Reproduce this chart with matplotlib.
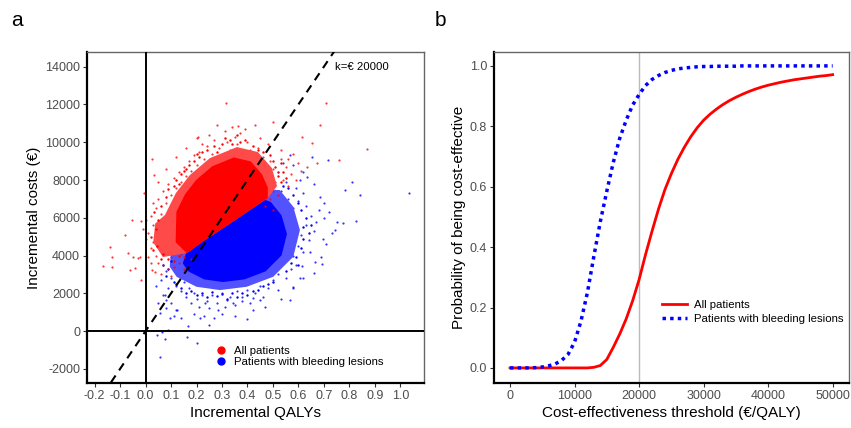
import numpy as np
import matplotlib
matplotlib.use("Agg")
import matplotlib.pyplot as plt
from matplotlib.lines import Line2D

plt.rcParams['font.family'] = ['Liberation Sans', 'DejaVu Sans']
plt.rcParams['axes.unicode_minus'] = False

# ---- panel a: cost-effectiveness plane ----
# thick part of each cloud (outline), and its saturated centre
red_halo_x = [0.068, 0.030, 0.038, 0.076, 0.119, 0.174, 0.253, 0.359, 0.441, 0.496, 0.516,
              0.480, 0.410, 0.323, 0.233, 0.162]
red_halo_y = [3920, 4700, 5700, 6145, 7310, 8263, 9164, 9746, 9482, 8634, 7681,
              7045, 6409, 5615, 4820, 4132]
red_core_x = [0.162, 0.118, 0.121, 0.155, 0.199, 0.262, 0.347, 0.413, 0.457, 0.480,
              0.480, 0.410, 0.323, 0.233]
red_core_y = [4132, 4700, 6316, 7248, 8010, 8731, 9197, 8986, 8307, 7600,
              7045, 6409, 5615, 4820]
blue_halo_x = [0.095, 0.122, 0.200, 0.292, 0.397, 0.501, 0.580, 0.606, 0.580, 0.527,
               0.460, 0.380, 0.280, 0.180, 0.100]
blue_halo_y = [3406, 2876, 2347, 2172, 2347, 2876, 3936, 5350, 6584, 7469,
               7500, 7000, 6000, 5000, 4300]
blue_core_x = [0.146, 0.168, 0.230, 0.304, 0.388, 0.471, 0.534, 0.555, 0.534, 0.492,
               0.420, 0.300, 0.180]
blue_core_y = [3585, 3161, 2738, 2598, 2738, 3161, 4009, 5140, 6127, 6835,
               7200, 6200, 5000]

# simulations just outside the thick part
red_ring_x = [0.03, 0.04, 0.05, 0.06, 0.045, 0.06, 0.08, 0.09, 0.02, 0.035,
              0.11, 0.12, 0.14, 0.15, 0.17, 0.19, 0.21, 0.22, 0.24, 0.13, 0.16, 0.20,
              0.27, 0.28, 0.30, 0.33, 0.34, 0.37, 0.39, 0.42, 0.44, 0.46, 0.31, 0.36,
              0.50, 0.51, 0.52, 0.53, 0.54, 0.55, 0.53, 0.49,
              0.09, 0.11, 0.13, 0.15, 0.07]
red_ring_y = [4300, 5400, 5900, 6600, 4500, 3800, 7100, 7500, 5000, 6300,
              7700, 8000, 8300, 8500, 8800, 9000, 9200, 9500, 9600, 7800, 8600, 9400,
              9800, 9500, 9900, 10100, 9900, 10000, 10100, 9800, 9600, 9500, 10200, 10400,
              9000, 8700, 8200, 7900, 8400, 8100, 8900, 9300,
              3800, 3700, 4000, 3900, 4100]
blue_ring_x = [0.12, 0.14, 0.16, 0.18, 0.20, 0.22, 0.24, 0.26, 0.28, 0.30, 0.32, 0.34,
               0.36, 0.38, 0.40, 0.42, 0.44, 0.46, 0.48, 0.50,
               0.08, 0.09, 0.10, 0.07, 0.11,
               0.57, 0.59, 0.61, 0.62, 0.62, 0.63, 0.61, 0.60, 0.58, 0.56, 0.54, 0.64,
               0.65, 0.60, 0.55]
blue_ring_y = [2500, 2300, 2000, 2100, 1900, 2000, 1800, 2050, 1850, 1950, 1700, 2000,
               1800, 2000, 1900, 2100, 2200, 2400, 2500, 2600,
               2900, 3300, 3700, 3500, 2600,
               3600, 3900, 4400, 4900, 5500, 6000, 6400, 6800, 7200, 7600, 7700, 5200,
               5600, 3500, 3200]

# single simulations further out
red_x = [0.01, 0.02, 0.03, 0.04, 0.05, 0.03, 0.06, 0.07, 0.08, 0.09, 0.10, 0.11, 0.12, 0.13,
         0.14, 0.15, 0.16, 0.17, 0.18, 0.19, 0.20, 0.02, 0.04, 0.05, 0.07, 0.09, 0.11, 0.01,
         0.13, 0.00,
         0.21, 0.23, 0.24, 0.26, 0.27, 0.29, 0.30, 0.32, 0.33, 0.35, 0.36, 0.38, 0.40, 0.41,
         0.43, 0.25, 0.31, 0.37,
         0.46, 0.47, 0.48, 0.49, 0.50, 0.51, 0.52, 0.53, 0.50, 0.54, 0.55, 0.56, 0.57, 0.49,
         0.52, 0.58, 0.60, 0.47, 0.50, 0.44,
         0.12, 0.14, 0.16, 0.17, 0.19, 0.08, 0.10,
         0.03, 0.05, 0.08, 0.12, 0.16, 0.20, 0.22, 0.28, 0.34, 0.39, 0.45, 0.48, 0.53, 0.56,
         0.59, 0.61, 0.00, -0.01, 0.02, 0.06, 0.10, 0.15, 0.18,
         0.315, 0.708, 0.685, 0.868, 0.760, 0.204, 0.024, 0.034, -0.005, 0.652, 0.632,
         0.672, 0.361, 0.501, 0.429, 0.613,
         -0.140, -0.169, -0.130, -0.130, -0.055, -0.081, -0.068, -0.049, -0.022, -0.029,
         -0.042, -0.016, -0.062, 0.024, 0.037, -0.016]
red_y = [5200, 6100, 5600, 6500, 7000, 4700, 6200, 7400, 6800, 7800, 7200, 8100, 7600, 8400,
         7900, 8700, 8200, 9000, 8500, 9300, 8800, 4400, 4000, 3600, 3500, 3300, 3400, 3900,
         3600, 4900,
         9500, 9100, 9800, 9400, 10100, 9700, 9300, 10000, 9600, 10300, 9900, 9500, 10000, 9600,
         9300, 10400, 10600, 10500,
         9200, 8800, 8300, 9000, 8600, 7900, 8400, 9100, 7400, 8000, 8700, 7700, 8300, 7000,
         7200, 9400, 8900, 6600, 6400, 9700,
         4500, 4100, 4700, 4300, 4600, 4200, 3900,
         6800, 7900, 8600, 9200, 9700, 10200, 9900, 10900, 10800, 10700, 10200, 9900, 9600, 9100,
         8000, 8500, 5900, 5400, 3600, 3000, 2900, 3300, 3800,
         12094, 12060, 10912, 9640, 9058, 10260, 9095, 8263, 7294, 9942, 8703,
         8883, 10859, 11087, 10912, 10292,
         4466, 3443, 3902, 3374, 5880, 5085, 4148, 3936, 3936, 3851,
         3321, 2701, 3231, 3231, 3141, 5843]

blue_x = [0.08, 0.10, 0.11, 0.12, 0.13, 0.14, 0.15, 0.16, 0.17, 0.18, 0.19, 0.20, 0.21, 0.22,
          0.24, 0.25, 0.26, 0.09, 0.06, 0.07, 0.10, 0.12,
          0.28, 0.30, 0.31, 0.33, 0.35, 0.36, 0.38, 0.40, 0.41, 0.43, 0.45, 0.46, 0.48, 0.50,
          0.52,
          0.52, 0.54, 0.55, 0.57, 0.58, 0.59, 0.60, 0.61, 0.62, 0.63, 0.64, 0.65, 0.66, 0.58,
          0.60, 0.62, 0.56, 0.59, 0.63, 0.67, 0.68, 0.70, 0.57, 0.53, 0.55, 0.50, 0.47, 0.44,
          0.04, 0.05, 0.08, 0.11, 0.14, 0.19, 0.23, 0.27, 0.30, 0.35, 0.42, 0.47, 0.53, 0.58,
          0.62, 0.66, 0.69, 0.71, 0.73, 0.70, 0.66, 0.62, 0.58, 0.52, 0.48, 0.72, 0.75,
          1.035, 0.809, 0.842, 0.783, 0.717, 0.652, 0.685, 0.632, 0.567, 0.540, 0.606,
          0.826, 0.776, 0.744, 0.695, 0.691, 0.665, 0.645, 0.613, 0.567, 0.397, 0.250, 0.167,
          0.203, 0.161, 0.076, 0.043, 0.056, 0.089, 0.063, 0.122, 0.095, 0.076, 0.056, 0.082,
          0.318, 0.344, 0.285, 0.213, 0.233, 0.423, 0.449, 0.377, 0.606, 0.580]
blue_y = [3200, 2800, 3500, 2400, 3000, 2100, 2600, 1800, 2300, 1500, 2000, 1700, 1300, 1900,
          1600, 1200, 1900, 2300, 2700, 1900, 1500, 1100,
          1500, 2000, 1300, 1800, 1400, 2100, 1600, 2200, 1500, 2000, 2400, 1800, 2300, 2700,
          2200,
          3000, 3600, 2800, 3300, 4000, 3500, 4500, 5100, 4200, 5600, 4800, 6100, 5300, 6500,
          6900, 7300, 7000, 7600, 6600, 5800, 6400, 6000, 5700, 7400, 7900, 7700, 7500, 7200,
          2400, 1500, 1200, 800, 700, 900, 800, 700, 900, 800, 1100, 1300, 1700, 2300,
          2800, 3100, 3900, 4600, 5200, 6800, 7800, 8400, 8800, 8400, 8200, 6300, 5800,
          7326, 7877, 7204, 7469, 9058, 9233, 7114, 8173, 9323, 8883, 7998,
          5843, 5737, 5350, 4857, 3549, 3671, 4200, 3443, 1642, 620, 318, 265,
          -652, -302, -440, -212, -1361, 53, -37, 1112, 673, 1907, 938, 1642,
          1642, 1467, 1112, 673, 1467, 1732, 1642, 1817, 2792, 2347]

wtp = 20000
qaly_ticks = [-0.2, -0.1, 0.0, 0.1, 0.2, 0.3, 0.4, 0.5, 0.6, 0.7, 0.8, 0.9, 1.0]
cost_ticks = [-2000, 0, 2000, 4000, 6000, 8000, 10000, 12000, 14000]

# ---- panel b: acceptability curves ----
thresholds = list(range(0, 50001, 1000))
prob_all = [0, 0, 0, 0, 0, 0, 0, 0, 0, 0, 0, 0, 0, 0.002, 0.008, 0.028, 0.068, 0.112, 0.162,
            0.222, 0.292, 0.375, 0.452, 0.525, 0.59, 0.643, 0.69, 0.73, 0.765, 0.795, 0.82,
            0.84, 0.857, 0.872, 0.885, 0.896, 0.906, 0.915, 0.923, 0.93, 0.936, 0.941, 0.946,
            0.95, 0.954, 0.957, 0.96, 0.963, 0.966, 0.968, 0.971]
prob_bleed = [0, 0, 0, 0, 0.001, 0.003, 0.007, 0.013, 0.025, 0.045, 0.085, 0.155, 0.25, 0.37,
              0.485, 0.585, 0.68, 0.76, 0.82, 0.87, 0.905, 0.935, 0.955, 0.968, 0.978, 0.985,
              0.99, 0.993, 0.995, 0.997, 0.998, 0.998, 0.999, 0.999, 0.999, 0.999, 1.0, 1.0,
              1.0, 1.0, 1.0, 1.0, 1.0, 1.0, 1.0, 1.0, 1.0, 1.0, 1.0, 1.0, 1.0]
thr_ticks = [0, 10000, 20000, 30000, 40000, 50000]
prob_ticks = [0.0, 0.2, 0.4, 0.6, 0.8, 1.0]

tick_grey = '#4D4D4D'

fig = plt.figure(figsize=(8.51, 4.28), dpi=100)
ax_a = fig.add_axes([0.1022, 0.1051, 0.3960, 0.7734])
ax_b = fig.add_axes([0.5805, 0.1051, 0.4171, 0.7734])

def style_axes(ax):
    for side in ['top', 'right']:
        ax.spines[side].set_color('#666666')
        ax.spines[side].set_linewidth(1.0)
    for side in ['left', 'bottom']:
        ax.spines[side].set_color('black')
        ax.spines[side].set_linewidth(1.6)
    ax.tick_params(direction='out', length=3, width=0.8, color='#333333',
                   labelcolor=tick_grey, labelsize=9, pad=2)

# panel a
ax_a.scatter(blue_x, blue_y, s=2.5, color='blue', lw=0, alpha=0.8, zorder=2)
ax_a.fill(blue_halo_x, blue_halo_y, color='#5252FF', lw=0, zorder=2)
ax_a.scatter(blue_ring_x, blue_ring_y, s=3, color='blue', lw=0, zorder=2)
ax_a.fill(blue_core_x, blue_core_y, color='blue', lw=0, zorder=2)
ax_a.scatter(red_x, red_y, s=2.5, color='red', lw=0, alpha=0.8, zorder=3)
ax_a.fill(red_halo_x, red_halo_y, color='#FF4A4A', lw=0, zorder=3)
ax_a.scatter(red_ring_x, red_ring_y, s=3, color='red', lw=0, zorder=3)
ax_a.fill(red_core_x, red_core_y, color='red', lw=0, zorder=3)
ax_a.axvline(0, color='black', lw=1.4, zorder=4)
ax_a.axhline(0, color='black', lw=1.4, zorder=4)
line_q = np.array([-0.2, 1.0])
ax_a.plot(line_q, line_q * wtp, color='black', lw=1.5, ls=(0, (4, 3)), zorder=5)
ax_a.text(0.745, 14000, 'k=\u20ac 20000', fontsize=8.2, ha='left', va='center')
ax_a.set_xlim(-0.23, 1.093)
ax_a.set_ylim(-2750, 14780)
ax_a.set_xticks(qaly_ticks)
ax_a.set_xticklabels(['%.1f' % v for v in qaly_ticks])
ax_a.set_yticks(cost_ticks)
ax_a.set_xlabel('Incremental QALYs', fontsize=11, labelpad=3)
ax_a.set_ylabel('Incremental costs (\u20ac)', fontsize=11, labelpad=3)
style_axes(ax_a)
handles_a = [Line2D([], [], ls='none', marker='o', ms=5, color='red'),
             Line2D([], [], ls='none', marker='o', ms=5, color='blue')]
ax_a.legend(handles_a, ['All patients', 'Patients with bleeding lesions'],
            loc='upper left', bbox_to_anchor=(0.37, 0.125), frameon=False,
            fontsize=8.2, handlelength=0.8, handletextpad=0.8, labelspacing=0.1,
            borderaxespad=0)

# panel b
ax_b.axvline(wtp, color='#BBBBBB', lw=1.0, zorder=1)
ax_b.plot(thresholds, prob_all, color='red', lw=2.0, label='All patients', zorder=3)
ax_b.plot(thresholds, prob_bleed, color='blue', lw=2.5, ls=(0, (1, 1.2)),
          label='Patients with bleeding lesions', zorder=3)
ax_b.set_xlim(-2480, 52530)
ax_b.set_ylim(-0.05, 1.046)
ax_b.set_xticks(thr_ticks)
ax_b.set_yticks(prob_ticks)
ax_b.set_yticklabels(['%.1f' % v for v in prob_ticks])
ax_b.set_xlabel('Cost-effectiveness threshold (\u20ac/QALY)', fontsize=11, labelpad=3)
ax_b.set_ylabel('Probability of being cost-effective', fontsize=11, labelpad=3)
style_axes(ax_b)
ax_b.legend(loc='upper left', bbox_to_anchor=(0.46, 0.265), frameon=False,
            fontsize=8.2, handlelength=2.2, handletextpad=0.6, labelspacing=0.4,
            borderaxespad=0)

fig.text(0.013, 0.951, 'a', fontsize=15, ha='left', va='center')
fig.text(0.511, 0.951, 'b', fontsize=15, ha='left', va='center')

fig.savefig('out.png', dpi=100)
